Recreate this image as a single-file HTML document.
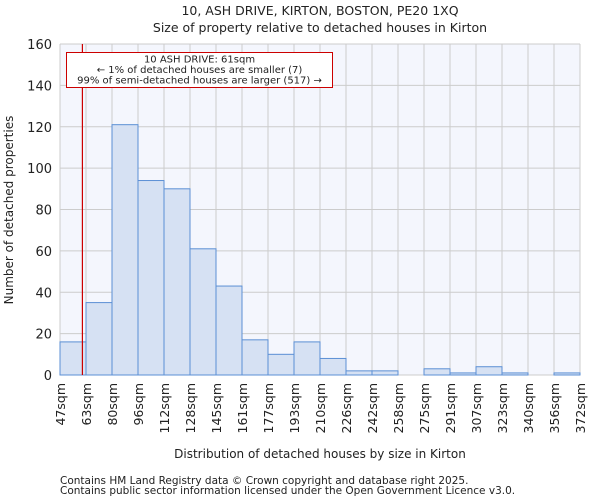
<!DOCTYPE html>
<html><head><meta charset="utf-8"><style>
body{margin:0;background:#fff;font-family:"DejaVu Sans","Liberation Sans",sans-serif;}
svg text{font-family:"DejaVu Sans","Liberation Sans",sans-serif;fill:#222;}
</style></head><body>
<svg id="chart" width="600" height="500" xmlns="http://www.w3.org/2000/svg">
<text x="320" y="15" text-anchor="middle" font-size="12.5">10, ASH DRIVE, KIRTON, BOSTON, PE20 1XQ</text>
<text x="320" y="32" text-anchor="middle" font-size="12.5">Size of property relative to detached houses in Kirton</text>
<rect x="60" y="44" width="520" height="331" fill="#f4f6fd"/>
<g id="grid"></g><g id="bars"></g><g id="axes"></g>
<text x="320" y="458" text-anchor="middle" font-size="12">Distribution of detached houses by size in Kirton</text>
<text transform="translate(13,210) rotate(-90)" text-anchor="middle" font-size="12">Number of detached properties</text>
<text x="60" y="484" font-size="10.5" fill="#444">Contains HM Land Registry data © Crown copyright and database right 2025.</text>
<text x="60" y="494" font-size="10.5" fill="#444">Contains public sector information licensed under the Open Government Licence v3.0.</text>
</svg>
<script>
const binLabels=["47sqm","63sqm","80sqm","96sqm","112sqm","128sqm","145sqm","161sqm","177sqm","193sqm","210sqm","226sqm","242sqm","258sqm","275sqm","291sqm","307sqm","323sqm","340sqm","356sqm","372sqm"];
const counts=[16,35,121,94,90,61,43,17,10,16,8,2,2,0,3,1,4,1,0,1];
const yTicks=[0,20,40,60,80,100,120,140,160];
const binStart=47, binEnd=372, subjectSize=61;
const X0=60,X1=580,Y0=375,Y1=44,YMAX=160;
const nb=counts.length;
const xb=i=>X0+(X1-X0)*i/nb;
const xv=v=>X0+(X1-X0)*(v-binStart)/(binEnd-binStart);
const y=v=>Y0-(Y0-Y1)*v/YMAX;
const NS="http://www.w3.org/2000/svg";
function mk(t,a,p){const e=document.createElementNS(NS,t);for(const k in a)e.setAttribute(k,a[k]);p.appendChild(e);return e;}
const G=document.getElementById('grid'),B=document.getElementById('bars'),A=document.getElementById('axes');
yTicks.forEach(t=>{
 const l=mk('line',{x1:X0,x2:X1,y1:y(t),y2:y(t),stroke:'#cccccc','stroke-width':1},G);
 
 
 const tx=mk('text',{x:X0-8,y:y(t)+5,'text-anchor':'end','font-size':13},A);
 tx.textContent=t;
 
 
});
binLabels.forEach((lb,i)=>{
 const l=mk('line',{x1:xb(i),x2:xb(i),y1:Y1,y2:Y0,stroke:'#cccccc','stroke-width':1},G);
 
 
 const tx=mk('text',{transform:`translate(${xb(i)+5},${Y0+8}) rotate(-90)`,'text-anchor':'end','font-size':12.5},A);
 tx.textContent=lb;
 
 
});
counts.forEach((c,i)=>{
 if(c<=0)return;
 const r=mk('rect',{x:xb(i),y:y(c),width:xb(i+1)-xb(i),height:Y0-y(c),fill:'#d6e1f3',stroke:'#5b8fd4','stroke-width':1},B);
 
 
});
const rl=mk('line',{x1:xv(subjectSize),x2:xv(subjectSize),y1:Y1,y2:Y0,stroke:'#cc0000','stroke-width':1.2},A);


const box=mk('rect',{x:66.5,y:52.5,width:266,height:35,fill:'#fff',stroke:'#cc0000','stroke-width':1},A);


["10 ASH DRIVE: 61sqm","← 1% of detached houses are smaller (7)","99% of semi-detached houses are larger (517) →"].forEach((s,i)=>{
 const t=mk('text',{x:199.5,y:62.5+i*10.5,'text-anchor':'middle','font-size':10},A);
 t.textContent=s;
 
 
});
</script>
</body></html>
